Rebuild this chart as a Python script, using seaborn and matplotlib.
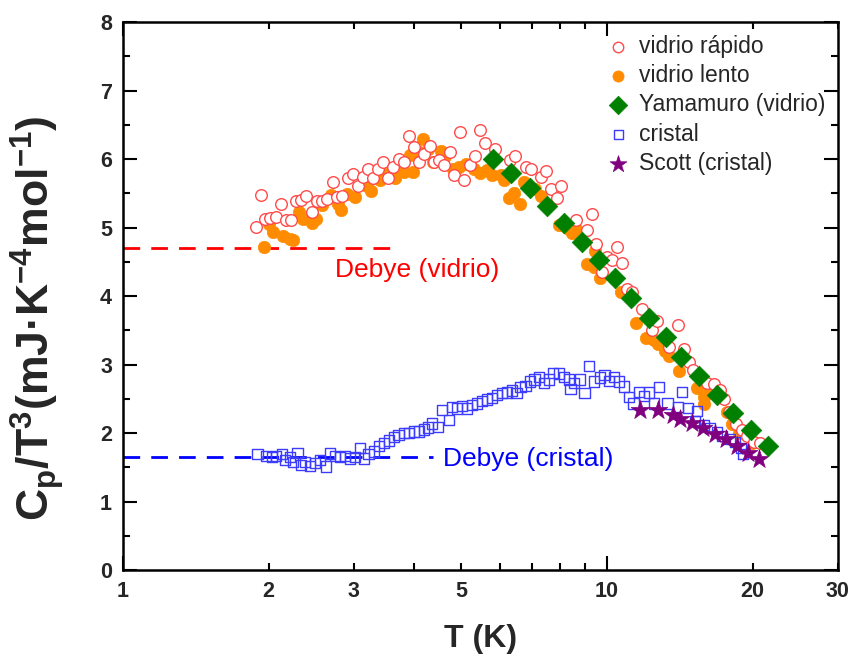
import numpy as np
import pandas as pd
import matplotlib
matplotlib.use("Agg")
import matplotlib.pyplot as plt
import seaborn as sns
from matplotlib.ticker import FixedLocator, NullFormatter

# ---------------- data ----------------
rapido_T = [1.882, 1.927, 1.967, 2.014, 2.070, 2.120, 2.171, 2.227, 2.280, 2.334, 2.390, 2.456,
            2.515, 2.576, 2.638, 2.710, 2.767, 2.834, 2.911, 2.981, 3.053, 3.132, 3.208, 3.285,
            3.358, 3.445, 3.523, 3.614, 3.711, 3.801, 3.893, 3.987, 4.083, 4.182, 4.301, 4.384,
            4.489, 4.613, 4.732, 4.839, 4.963, 5.076, 5.211, 5.331, 5.459, 5.595, 5.883, 6.304,
            6.470, 6.786, 6.950, 7.290, 7.464, 7.664, 7.867, 8.035, 8.610, 9.076, 9.303, 9.495,
            9.779, 10.01, 10.26, 10.47, 10.76, 11.00, 11.28, 11.83, 12.41, 12.71, 13.40, 14.02,
            14.40, 14.77, 15.07, 16.13, 16.62, 17.08, 17.43, 17.87, 18.45, 18.99, 19.51, 20.14,
            20.72]
rapido_C = [5.01, 5.47, 5.12, 5.14, 5.16, 5.35, 5.11, 5.11, 5.38, 5.40, 5.46, 5.22,
            5.38, 5.39, 5.41, 5.67, 5.44, 5.46, 5.72, 5.78, 5.61, 5.74, 5.85, 5.72,
            5.86, 5.96, 5.72, 5.88, 6.00, 5.96, 6.34, 6.17, 5.96, 6.08, 6.19, 5.96,
            5.99, 5.91, 6.10, 5.77, 6.39, 5.69, 5.91, 6.04, 6.43, 6.23, 6.14, 5.99,
            6.04, 5.89, 5.85, 5.74, 5.82, 5.56, 5.43, 5.60, 5.11, 4.97, 5.20, 4.76,
            4.35, 4.57, 4.53, 4.71, 4.48, 4.10, 4.06, 3.81, 3.51, 3.63, 3.26, 3.57,
            3.23, 3.04, 2.92, 2.73, 2.71, 2.63, 2.50, 2.30, 2.13, 2.04, 1.95, 1.87,
            1.85]

lento_T = [1.957, 2.007, 2.046, 2.143, 2.208, 2.250, 2.312, 2.353, 2.456, 2.507, 2.576, 2.693,
           2.776, 2.822, 2.903, 3.020, 3.193, 3.251, 3.390, 3.512, 3.654, 3.801, 3.975, 3.924,
           4.052, 4.166, 4.266, 4.368, 4.548, 4.636, 4.812, 4.949, 5.101, 5.204, 5.306, 5.477,
           5.655, 5.791, 6.025, 6.120, 6.283, 6.410, 6.605, 6.742, 7.090, 7.290, 7.975, 8.279,
           8.478, 8.634, 9.106, 9.396, 9.428, 9.654, 10.70, 11.50, 12.04, 12.49, 12.76, 13.16,
           13.43, 14.09, 15.38, 15.87, 15.84, 16.25, 17.66, 18.09, 18.75, 19.98]
lento_C = [4.72, 5.05, 4.94, 4.87, 4.83, 4.82, 5.22, 5.13, 5.06, 5.13, 5.33, 5.47,
           5.35, 5.26, 5.49, 5.44, 5.60, 5.54, 5.69, 5.78, 5.72, 5.81, 5.81, 6.06,
           6.11, 6.29, 6.14, 5.95, 6.12, 6.04, 5.86, 5.88, 5.93, 5.91, 5.86, 5.79,
           5.84, 5.77, 5.77, 5.69, 5.43, 5.51, 5.34, 5.66, 5.56, 5.46, 5.04, 4.99,
           4.92, 4.98, 4.47, 4.42, 4.65, 4.27, 4.06, 3.61, 3.38, 3.36, 3.30, 3.20,
           3.12, 2.90, 2.66, 2.53, 2.43, 2.60, 2.31, 2.13, 2.00, 1.85]

yama_T = [5.82, 6.34, 6.93, 7.52, 8.14, 8.86, 9.62, 10.38, 11.23, 12.21, 13.22, 14.25,
          15.49, 16.86, 18.25, 19.82, 21.56]
yama_C = [6.00, 5.79, 5.58, 5.31, 5.07, 4.79, 4.53, 4.26, 3.97, 3.68, 3.40, 3.11,
          2.83, 2.55, 2.29, 2.05, 1.81]

cristal_T = [1.895, 1.976, 2.030, 2.073, 2.130, 2.163, 2.215, 2.244, 2.294, 2.331, 2.379, 2.437,
             2.496, 2.556, 2.630, 2.681, 2.746, 2.812, 2.879, 2.949, 3.020, 3.083, 3.152, 3.217,
             3.295, 3.375, 3.456, 3.540, 3.625, 3.711, 3.801, 3.893, 3.987, 4.083, 4.182, 4.262,
             4.352, 4.470, 4.564, 4.709, 4.786, 4.901, 5.019, 5.140, 5.265, 5.392, 5.521, 5.655,
             5.791, 5.931, 6.073, 6.220, 6.370, 6.501, 6.626, 6.786, 6.927, 7.084, 7.231, 7.406,
             7.584, 7.745, 7.954, 8.145, 8.342, 8.409, 8.543, 8.790, 8.990, 9.175, 9.396, 9.667,
             9.887, 10.09, 10.33, 10.58, 10.84, 11.10, 11.34, 11.64, 11.92, 12.21, 12.51, 12.79,
             13.33, 14.02, 14.31, 14.71, 15.36, 15.18, 15.84, 16.31, 16.90, 17.27, 17.93, 18.37,
             18.90, 19.12]
cristal_C = [1.69, 1.66, 1.645, 1.66, 1.69, 1.61, 1.645, 1.58, 1.71, 1.53, 1.58, 1.52,
             1.56, 1.61, 1.51, 1.70, 1.66, 1.645, 1.66, 1.63, 1.65, 1.78, 1.63, 1.69,
             1.73, 1.81, 1.85, 1.89, 1.94, 1.97, 2.00, 2.00, 2.02, 2.02, 2.05, 2.08,
             2.14, 2.09, 2.34, 2.19, 2.38, 2.36, 2.39, 2.36, 2.41, 2.43, 2.47, 2.49,
             2.51, 2.55, 2.58, 2.59, 2.62, 2.58, 2.67, 2.69, 2.75, 2.78, 2.82, 2.73,
             2.78, 2.88, 2.87, 2.82, 2.78, 2.64, 2.73, 2.78, 2.58, 2.98, 2.75, 2.81,
             2.85, 2.76, 2.82, 2.75, 2.68, 2.53, 2.43, 2.60, 2.54, 2.59, 2.43, 2.67,
             2.43, 2.38, 2.60, 2.37, 2.32, 2.175, 2.12, 2.07, 2.01, 1.96, 1.91, 1.87,
             1.78, 1.69]

scott_T = [11.70, 12.73, 13.68, 14.12, 15.02, 15.82, 16.75, 17.60, 18.54, 19.54, 20.57]
scott_C = [2.34, 2.33, 2.27, 2.21, 2.15, 2.07, 1.99, 1.91, 1.81, 1.71, 1.62]

debye_vidrio = 4.70
debye_cristal = 1.65
debye_vidrio_Tmax = 3.70
debye_cristal_Tmax = 4.36

series_labels = ["vidrio rápido", "vidrio lento", "Yamamuro (vidrio)", "cristal", "Scott (cristal)"]
x_tick_major = [1, 10]
x_tick_minor = [2, 3, 4, 5, 6, 7, 8, 9, 20, 30]
x_minor_labels = ["2", "3", "", "5", "", "", "", "", "20", "30"]

# ---------------- style ----------------
sns.set_style("ticks")
plt.rcParams["font.family"] = ["Liberation Sans", "DejaVu Sans"]
plt.rcParams["mathtext.fontset"] = "custom"
plt.rcParams["mathtext.rm"] = "Liberation Sans"
plt.rcParams["mathtext.bf"] = "Liberation Sans:bold"
plt.rcParams["mathtext.it"] = "Liberation Sans:italic"

fig = plt.figure(figsize=(8.55, 6.57), dpi=100)
ax = fig.add_axes([0.1439, 0.1324, 0.8361, 0.8341])

df_r = pd.DataFrame({"T": rapido_T, "C": rapido_C})
df_l = pd.DataFrame({"T": lento_T, "C": lento_C})
df_y = pd.DataFrame({"T": yama_T, "C": yama_C})
df_c = pd.DataFrame({"T": cristal_T, "C": cristal_C})
df_s = pd.DataFrame({"T": scott_T, "C": scott_C})

sns.scatterplot(data=df_l, x="T", y="C", ax=ax, marker="o", s=80, color="#ff8c00",
                edgecolor="#ff8c00", linewidth=0.5, label=series_labels[1], zorder=3)
sns.scatterplot(data=df_r, x="T", y="C", ax=ax, marker="o", s=70, facecolor="white",
                edgecolor="#ff4a4a", linewidth=1.0, label=series_labels[0], zorder=4)
sns.scatterplot(data=df_c, x="T", y="C", ax=ax, marker="s", s=55, facecolor="none",
                edgecolor="#3c3cff", linewidth=1.0, label=series_labels[3], zorder=3)
sns.scatterplot(data=df_s, x="T", y="C", ax=ax, marker="*", s=200, color="#800080",
                edgecolor="#800080", linewidth=0.5, label=series_labels[4], zorder=5)
sns.scatterplot(data=df_y, x="T", y="C", ax=ax, marker="D", s=110, color="#008000",
                edgecolor="#008000", linewidth=0.5, label=series_labels[2], zorder=6)

ax.plot([1, debye_vidrio_Tmax], [debye_vidrio, debye_vidrio], color="red", lw=2,
        dashes=(6, 4), zorder=2)
ax.plot([1, debye_cristal_Tmax], [debye_cristal, debye_cristal], color="blue", lw=2,
        dashes=(6, 4), zorder=2)
ax.text(2.74, 4.38, "Debye (vidrio)", color="red", fontsize=19, va="center", ha="left")
ax.text(4.59, 1.62, "Debye (cristal)", color="blue", fontsize=19, va="center", ha="left")

ax.set_xscale("log")
ax.set_xlim(1, 30)
ax.set_ylim(0, 8)
ax.xaxis.set_major_locator(FixedLocator(x_tick_major))
ax.set_xticks(x_tick_major)
ax.set_xticklabels([str(v) for v in x_tick_major])
ax.set_xticks(x_tick_minor, minor=True)
ax.set_xticklabels(x_minor_labels, minor=True)
ax.set_yticks(np.arange(0, 9, 1))
ax.set_yticks(np.arange(0.5, 8, 1), minor=True)
ax.yaxis.set_minor_formatter(NullFormatter())

ax.tick_params(which="both", direction="in", top=True, right=True, width=1.5,
               labelsize=15.5, pad=8, color="black")
ax.tick_params(which="major", length=10)
ax.tick_params(which="minor", length=5)
for lab in ax.get_xticklabels(which="both") + ax.get_yticklabels():
    lab.set_fontweight("bold")
for sp in ax.spines.values():
    sp.set_linewidth(1.8)
    sp.set_color("black")

ax.set_xlabel("T (K)", fontsize=23, fontweight="bold", labelpad=16)
ax.set_ylabel(r"C$_\mathbf{p}$/T$^\mathbf{3}$(mJ·K$^\mathbf{-4}$mol$^\mathbf{-1}$)",
              fontsize=32, fontweight="bold")
ax.yaxis.set_label_coords(-0.08, 0.46)

handles, labels = ax.get_legend_handles_labels()
order = [labels.index(l) for l in series_labels]
ax.legend([handles[i] for i in order], [labels[i] for i in order], loc="upper right",
          frameon=False, fontsize=16.5, handletextpad=0.1, handlelength=1.6,
          labelspacing=0.28, borderaxespad=0.25, markerscale=0.9, borderpad=0.3)

fig.savefig("out.png", dpi=100)
